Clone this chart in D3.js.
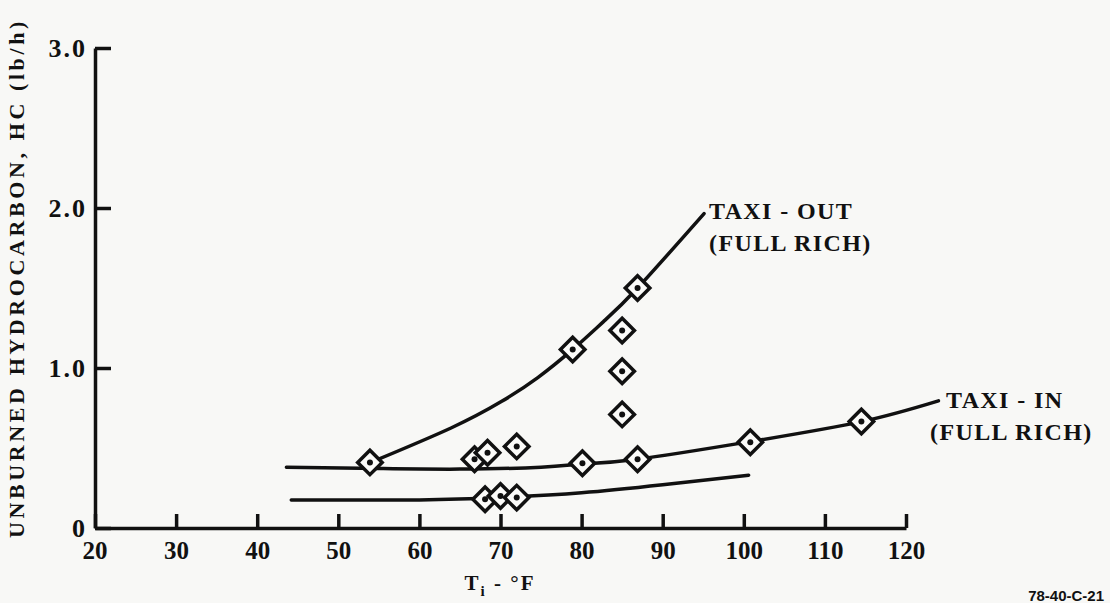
<!DOCTYPE html>
<html>
<head>
<meta charset="utf-8">
<script src="https://cdn.jsdelivr.net/npm/d3@7"></script>
<style>
  body { margin: 0; background: #f8f8f6; }
  svg { display: block; }
  text { font-family: "Liberation Serif", serif; font-weight: bold; fill: #111; }
</style>
</head>
<body>
<svg id="chart" width="1110" height="603"></svg>
<script>
// ticks
let xTicks = [20, 30, 40, 50, 60, 70, 80, 90, 100, 110, 120];
let yTicks = [0, 1, 2, 3];
let yTickLabels = ["0", "1.0", "2.0", "3.0"];

// faired curves (temperature, lb/h)
let taxiOutCurve = [[54.0, 0.41], [63.9, 0.625], [70.1, 0.79], [74.6, 0.94], [78.9, 1.116], [82.7, 1.29], [86.9, 1.50], [95.1, 1.965]];
let taxiInCurve = [[43.6, 0.38], [55, 0.372], [65, 0.368], [75, 0.38], [80.1, 0.40], [86.9, 0.43], [100.8, 0.54], [114.5, 0.665], [124.0, 0.795]];
let lowerCurve = [[44.2, 0.175], [60, 0.175], [70, 0.19], [80, 0.22], [90, 0.27], [100.6, 0.33]];

// measured points
let pointsT = [53.9, 78.9, 85.0, 85.0, 85.0, 86.9, 66.8, 68.4, 72.0, 80.1, 86.9, 100.8, 114.5, 68.1, 70.0, 72.0];
let pointsHC = [0.41, 1.116, 1.234, 0.98, 0.71, 1.50, 0.43, 0.47, 0.51, 0.405, 0.43, 0.536, 0.666, 0.18, 0.20, 0.19];

let ink = '#111';
let svg = d3.select('#chart');

let x = d3.scaleLinear().domain([20, 120]).range([95, 906]);
let y = d3.scaleLinear().domain([0, 3]).range([528, 48]);

// x axis, ticks pointing up into the plot
let xAxis = svg.append('g')
    .attr('transform', 'translate(0,' + y(0) + ')')
    .call(d3.axisBottom(x).tickValues(xTicks).tickSizeInner(-14).tickSizeOuter(0).tickPadding(13));
xAxis.selectAll('text').style('font-size', '25px').attr('dy', '0.71em').attr('fill', ink);
xAxis.selectAll('text').filter((d) => d == 20).text('');

// y axis, ticks pointing right
let yAxis = svg.append('g')
    .attr('transform', 'translate(' + x(20) + ',0)')
    .call(d3.axisLeft(y).tickValues(yTicks).tickSizeInner(-16).tickSizeOuter(0).tickPadding(8)
        .tickFormat((d, i) => yTickLabels[i]));
yAxis.selectAll('text').style('font-size', '26px').style('letter-spacing', '2px').attr('fill', ink);

svg.selectAll('.domain, .tick line').attr('stroke', ink).attr('stroke-width', 3.5);

// "20" under the corner
svg.append('text')
    .attr('x', x(20)).attr('y', y(0) + 13)
    .attr('dy', '0.71em').attr('text-anchor', 'middle')
    .style('font-size', '25px')
    .text('20');

// curves
let line = d3.line()
    .x((d) => x(d[0]))
    .y((d) => y(d[1]))
    .curve(d3.curveNatural);

svg.selectAll('.curve')
    .data([taxiOutCurve, taxiInCurve, lowerCurve])
    .enter().append('path')
    .attr('class', 'curve')
    .attr('d', line)
    .attr('fill', 'none')
    .attr('stroke', ink)
    .attr('stroke-width', 3.5)
    .attr('stroke-linecap', 'round');

// diamond symbols
let pts = pointsT.map((t, i) => ({t: t, hc: pointsHC[i]}));
let marks = svg.selectAll('.pt')
    .data(pts)
    .enter().append('g')
    .attr('class', 'pt')
    .attr('transform', (d) => 'translate(' + x(d.t) + ',' + y(d.hc) + ')');

marks.append('path')
    .attr('d', d3.symbol(d3.symbolSquare, 300))
    .attr('transform', 'rotate(45)')
    .attr('fill', '#fbfbf9')
    .attr('stroke', ink)
    .attr('stroke-width', 3.5);

marks.append('circle')
    .attr('r', 3)
    .attr('fill', ink);

// curve labels
function label(lines, x0, y0, x1) {
    let t = svg.append('text')
        .attr('x', x0).attr('y', y0)
        .style('font-size', '24px')
        .style('letter-spacing', '1.4px');
    lines.forEach((s, i) => {
        t.append('tspan').attr('x', i == 0 ? x0 : x1).attr('dy', i == 0 ? 0 : 32).text(s);
    });
}
label(['TAXI - OUT', '(FULL RICH)'], 709, 219, 709);
label(['TAXI - IN', '(FULL RICH)'], 946, 408, 930);

// axis titles
let xt = svg.append('text')
    .attr('x', 500).attr('y', 590)
    .attr('text-anchor', 'middle')
    .style('font-size', '21px')
    .style('letter-spacing', '2px');
xt.append('tspan').text('T');
xt.append('tspan').attr('dy', 6).style('font-size', '15px').text('i');
xt.append('tspan').attr('dy', -6).text(' - °F');

svg.append('text')
    .attr('transform', 'translate(24,278) rotate(-90)')
    .attr('text-anchor', 'middle')
    .style('font-size', '22px')
    .style('letter-spacing', '3.6px')
    .text('UNBURNED HYDROCARBON, HC  (lb/h)');

// figure number at the bottom edge
svg.append('text')
    .attr('x', 1104).attr('y', 601)
    .attr('text-anchor', 'end')
    .style('font-family', 'Liberation Sans, sans-serif')
    .style('font-size', '15px')
    .text('78-40-C-21');
</script>
</body>
</html>
